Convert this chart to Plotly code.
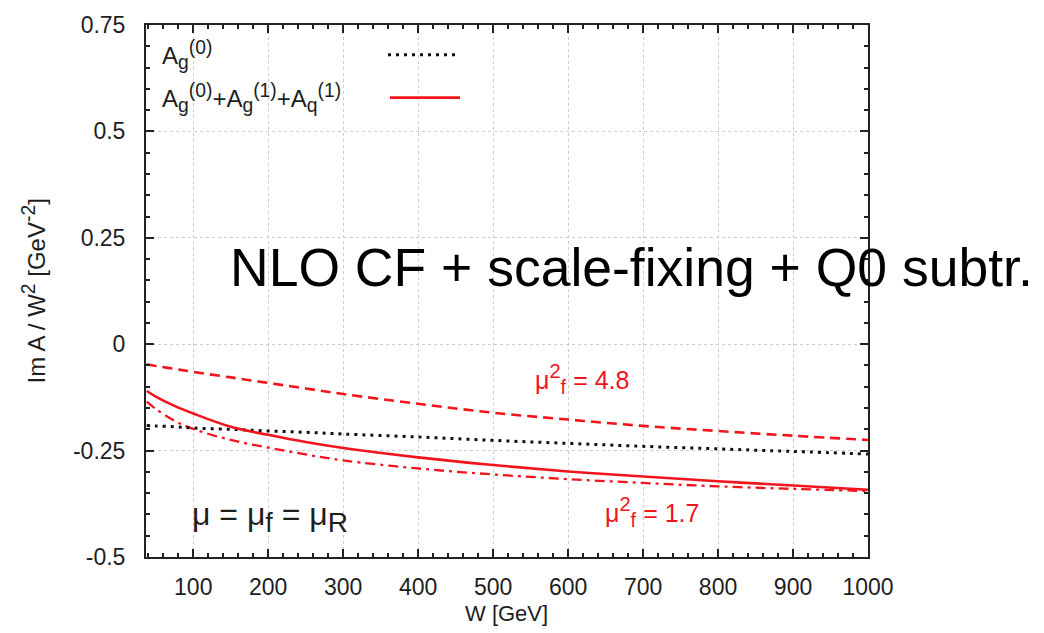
import plotly.graph_objects as go

# ---- data ----
W = [38, 50, 75, 100, 150, 200, 250, 300, 400, 500, 600, 700, 800, 900, 1000]
lo_ag0 = [-0.191, -0.192, -0.194, -0.197, -0.200, -0.204, -0.207, -0.211, -0.218, -0.226, -0.233, -0.240, -0.246, -0.252, -0.258]
nlo_mid = [-0.110, -0.123, -0.145, -0.163, -0.194, -0.213, -0.230, -0.244, -0.266, -0.284, -0.299, -0.311, -0.322, -0.332, -0.342]
nlo_48 = [-0.047, -0.051, -0.058, -0.065, -0.078, -0.091, -0.104, -0.117, -0.140, -0.161, -0.177, -0.192, -0.204, -0.215, -0.225]
nlo_17 = [-0.135, -0.152, -0.180, -0.199, -0.225, -0.243, -0.259, -0.273, -0.292, -0.306, -0.317, -0.326, -0.334, -0.340, -0.345]

x_ticks = [100, 200, 300, 400, 500, 600, 700, 800, 900, 1000]
y_ticks = [-0.5, -0.25, 0, 0.25, 0.5, 0.75]
y_ticklabels = ["-0.5", "-0.25", "0", "0.25", "0.5", "0.75"]

RED = "#f2141c"
INK = "#1e1e1e"
FONT = "Liberation Sans, Arial, Helvetica, sans-serif"

W_PX, H_PX = 1044, 633
L, R, T, B = 146, 868, 22, 557


def px(xp):
    return (xp - L) / (R - L)


def py(yp):
    return (B - yp) / (B - T)


def sup(t, pct=115):
    return f"<sup><span style='font-size:{pct}%'>{t}</span></sup>"


def sub(t, pct=115):
    return f"<sub><span style='font-size:{pct}%'>{t}</span></sub>"


fig = go.Figure()
fig.add_trace(go.Scatter(x=W, y=nlo_48, mode="lines", line=dict(color=RED, width=2.6, dash="10px,6px", shape="spline"), showlegend=False))
fig.add_trace(go.Scatter(x=W, y=nlo_17, mode="lines", line=dict(color=RED, width=2.3, dash="10px,5px,3px,5px", shape="spline"), showlegend=False))
fig.add_trace(go.Scatter(x=W, y=lo_ag0, mode="lines", line=dict(color="#111111", width=3, dash="3px,5px", shape="spline"), showlegend=False))
fig.add_trace(go.Scatter(x=W, y=nlo_mid, mode="lines", line=dict(color=RED, width=2.6, shape="spline"), showlegend=False))

axis_common = dict(
    showline=True, linecolor="#222222", linewidth=2, mirror="ticks",
    ticks="inside", ticklen=8, tickwidth=1.5, tickcolor="#222222",
    showgrid=True, gridcolor="#cccccc", gridwidth=1, griddash="dot",
    zeroline=False,
    tickfont=dict(family=FONT, size=23, color=INK),
)

fig.update_xaxes(
    range=[37, 1000], tickvals=x_ticks, ticktext=[str(v) for v in x_ticks],
    minor=dict(ticks="inside", ticklen=4, dtick=20, tick0=0, tickcolor="#222222", showgrid=False),
    ticklabelstandoff=8,
    **axis_common,
)
fig.update_yaxes(
    range=[-0.5, 0.75], tickvals=y_ticks, ticktext=y_ticklabels,
    minor=dict(ticks="inside", ticklen=4, dtick=0.05, tick0=0, tickcolor="#222222", showgrid=False),
    ticklabelstandoff=14,
    **axis_common,
)

# opaque key box (covers grid, below traces)
fig.add_shape(type="rect", xref="paper", yref="paper", x0=px(L + 2), x1=px(470), y0=py(118), y1=py(T + 2),
              fillcolor="white", line=dict(width=0), layer="between")

# key samples
fig.add_shape(type="line", xref="paper", yref="paper", x0=px(388), x1=px(458), y0=py(52), y1=py(52),
              line=dict(color="#111111", width=3, dash="3px,5px"))
fig.add_shape(type="line", xref="paper", yref="paper", x0=px(390), x1=px(460), y0=py(95), y1=py(95),
              line=dict(color=RED, width=2.6))

annots = [
    dict(text="A" + sub("g") + sup("(0)"), x=px(160), y=py(52), xanchor="left", yanchor="middle",
         font=dict(family=FONT, size=24, color=INK)),
    dict(text="A" + sub("g") + sup("(0)") + "+A" + sub("g") + sup("(1)") + "+A" + sub("q") + sup("(1)"),
         x=px(160), y=py(95), xanchor="left", yanchor="middle", font=dict(family=FONT, size=24, color=INK)),
    dict(text="NLO CF + scale-fixing + Q0 subtr.", x=px(228), y=py(266), xanchor="left", yanchor="middle",
         font=dict(family=FONT, size=53.5, color="black")),
    dict(text="μ" + sup("2") + sub("f") + " = 4.8", x=px(533), y=py(378), xanchor="left", yanchor="middle",
         font=dict(family=FONT, size=25, color=RED)),
    dict(text="μ" + sup("2") + sub("f") + " = 1.7", x=px(603), y=py(512), xanchor="left", yanchor="middle",
         font=dict(family=FONT, size=25, color=RED)),
    dict(text="μ = μ" + sub("f", 120) + " = μ" + sub("R", 125), x=px(190), y=py(517), xanchor="left", yanchor="middle",
         font=dict(family=FONT, size=32, color=INK)),
    dict(text="W [GeV]", x=px(506), y=py(614), xanchor="center", yanchor="middle",
         font=dict(family=FONT, size=22, color=INK)),
    dict(text="Im A / W" + sup("2") + " [GeV" + sup("-2") + "]", x=px(34), y=py(290), xanchor="center", yanchor="middle",
         textangle=-90, font=dict(family=FONT, size=24, color=INK)),
]
for a in annots:
    fig.add_annotation(xref="paper", yref="paper", showarrow=False, **a)

fig.update_layout(
    width=W_PX, height=H_PX,
    margin=dict(l=L, r=W_PX - R, t=T, b=H_PX - B, pad=0),
    paper_bgcolor="white", plot_bgcolor="white",
    showlegend=False,
)

fig.write_html("out.html")
